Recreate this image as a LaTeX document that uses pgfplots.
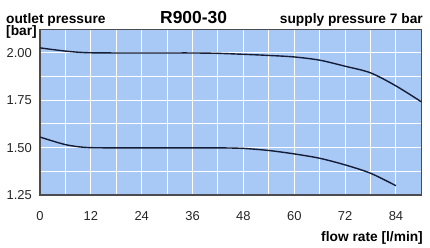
\documentclass[border=0pt]{standalone}
\usepackage{pgfplots}
\pgfplotsset{compat=1.18}
\usepackage{fontspec}
\setmainfont{Liberation Sans}
\definecolor{bgblue}{RGB}{168,200,246}
\definecolor{curve}{RGB}{22,30,55}
\definecolor{frame}{RGB}{75,75,80}
\begin{document}
\begin{tikzpicture}
\path[use as bounding box] (0,0) rectangle (430bp,248bp);
\begin{axis}[
  at={(40bp,53bp)}, anchor=south west,
  scale only axis, width=381.4bp, height=165.7bp,
  xmin=0, xmax=90, ymin=1.25, ymax=2.125,
  axis background/.style={fill=bgblue},
  axis line style={draw=frame, line width=1.3bp},
  xtick={0,12,...,84}, minor xtick={6,18,...,90},
  ytick={1.25,1.5,1.75,2.0}, minor ytick={1.375,1.625,1.875,2.125},
  grid=both,
  major grid style={white, line width=1bp},
  minor grid style={white, line width=1bp},
  tick style={draw=none}, major tick length=0pt, minor tick length=0pt,
  /pgf/number format/assume math mode=true,
  yticklabel style={/pgf/number format/fixed, /pgf/number format/fixed zerofill, /pgf/number format/precision=2, anchor=east, inner sep=0pt, xshift=-8bp},
  xticklabel style={anchor=base, inner sep=0pt, yshift=-25.7bp},
  tick label style={font=\fontsize{13}{15}\selectfont, color=black!85},
  clip=false,
]
\addplot[curve, line width=1.4bp, smooth, tension=0.5] coordinates {
(0,2.027) (3,2.018) (6,2.010) (9,2.004) (12,2.001) (18,2.000) (24,2.000) (30,2.000) (36,2.000) (42,1.998) (48,1.993) (54,1.987) (60,1.979) (66,1.962) (72,1.930) (78,1.895) (84,1.826) (90,1.742)};
\addplot[curve, line width=1.4bp, smooth, tension=0.5] coordinates {
(0,1.556) (3,1.535) (6,1.516) (9,1.505) (12,1.500) (18,1.499) (24,1.499) (30,1.499) (36,1.499) (42,1.499) (48,1.496) (54,1.485) (60,1.467) (66,1.444) (72,1.409) (78,1.365) (84,1.299)};
\end{axis}
\node[anchor=base west, inner sep=0pt, font=\fontsize{13.8}{16}\selectfont\bfseries] at (6bp,224.7bp) {outlet pressure};
\node[anchor=base west, inner sep=0pt, font=\fontsize{17.5}{20}\selectfont\bfseries] at (160bp,224.7bp) {R900-30};
\node[anchor=base east, inner sep=0pt, font=\fontsize{13.8}{16}\selectfont\bfseries] at (423bp,224.7bp) {supply pressure 7 bar};
\node[anchor=base west, inner sep=0pt, font=\fontsize{13.8}{16}\selectfont\bfseries] at (6bp,212bp) {[bar]};
\node[anchor=base east, inner sep=0pt, font=\fontsize{13.8}{16}\selectfont\bfseries] at (423bp,7bp) {flow rate [l/min]};
\end{tikzpicture}
\end{document}
